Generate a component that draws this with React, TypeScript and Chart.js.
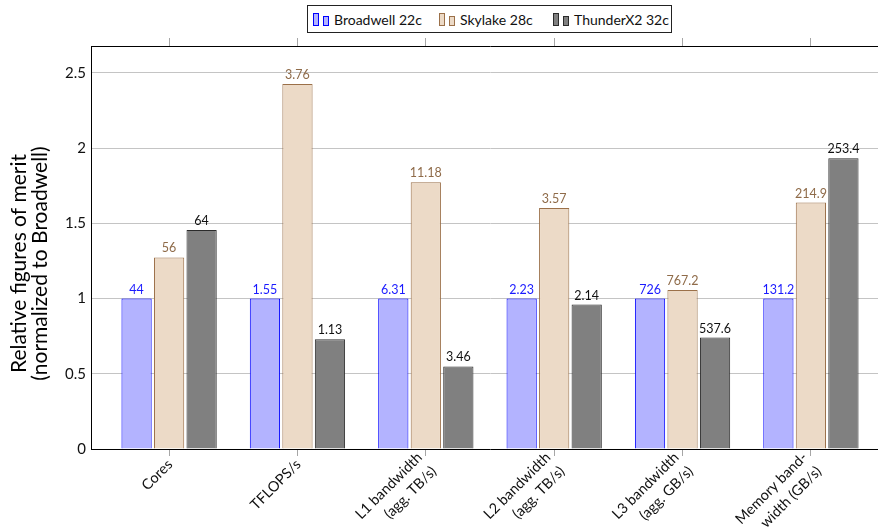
import React, { useEffect, useRef } from 'react';
import { Chart, registerables } from 'chart.js';

Chart.register(...registerables);

// Metric categories (multi-line axis labels)
const categories: string[][] = [
  ['Cores'],
  ['TFLOPS/s'],
  ['L1 bandwidth', '(agg. TB/s)'],
  ['L2 bandwidth', '(agg. TB/s)'],
  ['L3 bandwidth', '(agg. GB/s)'],
  ['Memory band-', 'width (GB/s)'],
];

// Absolute figures for each processor
const broadwell = [44, 1.55, 6.31, 2.23, 726, 131.2];
const skylake = [56, 3.76, 11.18, 3.57, 767.2, 214.9];
const thunderx2 = [64, 1.13, 3.46, 2.14, 537.6, 253.4];

const seriesNames = ['Broadwell 22c', 'Skylake 28c', 'ThunderX2 32c'];
const yTickValues = [0, 0.5, 1, 1.5, 2, 2.5];
const yTitle = ['Relative figures of merit', '(normalized to Broadwell)'];

const FONT = 'Lato';

const styles = [
  { fill: '#b3b3ff', border: '#0000ff', label: '#1a1aff' },
  { fill: '#ecdac7', border: '#9b7049', label: '#8f6b49' },
  { fill: '#808080', border: '#2b2b2b', label: '#111111' },
];

const absolute = [broadwell, skylake, thunderx2];

// Everything is normalized to Broadwell
const normalized = (vals: number[]) => vals.map((v, i) => v / broadwell[i]);

const X_PAD = 0.6084;

const valueLabels = {
  id: 'valueLabels',
  afterDatasetsDraw(chart: any) {
    const ctx = chart.ctx;
    ctx.save();
    ctx.font = `12.5px ${FONT}`;
    ctx.textAlign = 'center';
    ctx.textBaseline = 'alphabetic';
    chart.data.datasets.forEach((_: any, di: number) => {
      const meta = chart.getDatasetMeta(di);
      ctx.fillStyle = styles[di].label;
      meta.data.forEach((bar: any, i: number) => {
        ctx.fillText(String(absolute[di][i]), bar.x, bar.y - 5);
      });
    });
    ctx.restore();
  },
};

// Rotated category labels: each block is anchored by its right-middle point
// just under the tick, lines right-aligned.
const categoryLabels = {
  id: 'categoryLabels',
  afterDraw(chart: any) {
    const ctx = chart.ctx;
    const xs = chart.scales.x;
    const lh = 20;
    ctx.save();
    ctx.font = `14.5px ${FONT}`;
    ctx.fillStyle = '#111';
    ctx.textAlign = 'right';
    ctx.textBaseline = 'middle';
    categories.forEach((lines, i) => {
      const px = xs.getPixelForValue(i);
      ctx.save();
      ctx.translate(px + 1, xs.top + 13);
      ctx.rotate(-Math.PI / 4);
      lines.forEach((line, k) => {
        ctx.fillText(line, 0, (k - (lines.length - 1) / 2) * lh);
      });
      ctx.restore();
    });
    ctx.restore();
  },
};

// Rotated two-line y-axis title
const yAxisTitle = {
  id: 'yAxisTitle',
  afterDraw(chart: any) {
    const ctx = chart.ctx;
    const area = chart.chartArea;
    const cy = (area.top + area.bottom) / 2 + 16;
    ctx.save();
    ctx.font = `21px ${FONT}`;
    ctx.fillStyle = '#000';
    ctx.textAlign = 'center';
    ctx.textBaseline = 'middle';
    yTitle.forEach((line, i) => {
      ctx.save();
      ctx.translate(19 + i * 21, cy);
      ctx.rotate(-Math.PI / 2);
      ctx.fillText(line, 0, 0);
      ctx.restore();
    });
    ctx.restore();
  },
};

const setCategoryTicks = (scale: any) => {
  scale.ticks = categories.map((_, i) => ({ value: i }));
};

function Legend() {
  const items = [
    { left: 312, ...styles[0], name: seriesNames[0] },
    { left: 438, ...styles[1], name: seriesNames[1] },
    { left: 552, ...styles[2], name: seriesNames[2] },
  ];
  return (
    <div
      style={{
        position: 'absolute',
        left: 307,
        top: 5,
        width: 365,
        height: 28,
        border: '1px solid #222',
        background: '#fff',
        boxSizing: 'border-box',
        fontFamily: FONT,
        fontSize: 14,
        color: '#111',
      }}
    >
      {items.map((it) => (
        <div
          key={it.name}
          style={{
            position: 'absolute',
            left: it.left - 307,
            top: 0,
            height: 26,
            display: 'flex',
            alignItems: 'center',
            whiteSpace: 'nowrap',
          }}
        >
          <div style={{ display: 'flex', alignItems: 'flex-end', height: 13, marginTop: 1 }}>
            <div
              style={{
                width: 6,
                height: 13,
                background: it.fill,
                border: `1.5px solid ${it.border}`,
                boxSizing: 'border-box',
              }}
            />
            <div
              style={{
                width: 6,
                height: 10,
                marginLeft: 4,
                background: it.fill,
                border: `1.5px solid ${it.border}`,
                boxSizing: 'border-box',
              }}
            />
          </div>
          <span style={{ marginLeft: 5 }}>{it.name}</span>
        </div>
      ))}
    </div>
  );
}

export default function App() {
  const canvasRef = useRef<HTMLCanvasElement | null>(null);

  useEffect(() => {
    if (!canvasRef.current) return;
    const chart = new Chart(canvasRef.current, {
      type: 'bar',
      data: {
        datasets: absolute.map((vals, di) => ({
          label: seriesNames[di],
          data: normalized(vals).map((y, i) => ({ x: i, y })),
          backgroundColor: styles[di].fill,
          borderColor: styles[di].border,
          borderWidth: 1,
          borderSkipped: 'start',
          categoryPercentage: 0.76,
          barPercentage: 0.93,
        })),
      },
      plugins: [valueLabels, categoryLabels, yAxisTitle],
      options: {
        responsive: false,
        animation: false,
        devicePixelRatio: 1,
        layout: { padding: 0 },
        plugins: {
          legend: { display: false },
          tooltip: { enabled: false },
        },
        scales: {
          x: {
            type: 'linear',
            position: 'bottom',
            offset: false,
            min: -X_PAD,
            max: categories.length - 1 + X_PAD,
            z: 1,
            afterBuildTicks: setCategoryTicks,
            afterFit: (s: any) => {
              s.height = 79;
            },
            grid: {
              offset: false,
              drawOnChartArea: false,
              drawTicks: true,
              tickLength: 7,
              color: '#a6a6a6',
            },
            border: { color: '#000', width: 1 },
            ticks: { display: false },
          },
          x2: {
            type: 'linear',
            position: 'top',
            offset: false,
            min: -X_PAD,
            max: categories.length - 1 + X_PAD,
            afterBuildTicks: setCategoryTicks,
            afterFit: (s: any) => {
              s.height = 46;
            },
            grid: {
              offset: false,
              drawOnChartArea: false,
              drawTicks: true,
              tickLength: 8,
              color: '#a6a6a6',
            },
            border: { color: '#000', width: 1 },
            ticks: { display: false },
          },
          y: {
            type: 'linear',
            position: 'left',
            min: 0,
            max: 2.678,
            afterBuildTicks: (s: any) => {
              s.ticks = yTickValues.map((value) => ({ value }));
            },
            afterFit: (s: any) => {
              s.width = 91;
            },
            grid: {
              drawTicks: false,
              color: (c: any) => (c.tick && c.tick.value === 0 ? 'rgba(0,0,0,0)' : '#c4c4c4'),
            },
            border: { color: '#000', width: 1 },
            ticks: {
              padding: 5,
              color: '#111',
              font: { family: FONT, size: 15 },
              callback: (v: any) => String(v),
            },
          },
        },
      } as any,
    });
    return () => chart.destroy();
  }, []);

  return (
    <div
      style={{
        position: 'fixed',
        left: 0,
        top: 0,
        width: 878,
        height: 528,
        overflow: 'hidden',
        background: '#fff',
      }}
    >
      <canvas
        ref={canvasRef}
        width={889}
        height={528}
        style={{ position: 'absolute', left: 0, top: 0, width: 889, height: 528 }}
      />
      <Legend />
    </div>
  );
}
